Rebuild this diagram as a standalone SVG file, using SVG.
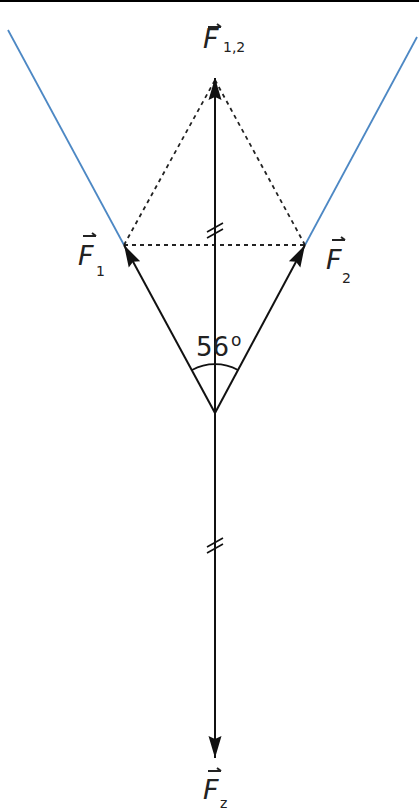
<svg xmlns="http://www.w3.org/2000/svg" width="419" height="810" viewBox="0 0 419 810">
<style>
.vec{stroke:#111;stroke-width:2;fill:none}
.dot{stroke:#222;stroke-width:1.8;stroke-dasharray:4 4;fill:none}
.blue{stroke:#4d88c4;stroke-width:1.8;fill:none}
.tick{stroke:#111;stroke-width:1.6;fill:none}
.F{font-family:"DejaVu Sans",sans-serif;font-style:italic;font-size:27px;fill:#222}
.sub{font-family:"DejaVu Sans",sans-serif;font-size:14px;fill:#222}
.lbl{font-family:"DejaVu Sans",sans-serif;font-size:26px;fill:#222}
</style>
<defs>
<marker id="ah" markerUnits="userSpaceOnUse" markerWidth="24" markerHeight="16" refX="22" refY="8" orient="auto">
<path d="M0,1.5 L22,8 L0,14.5 L3,8 Z" fill="#111"/>
</marker>
<g id="vecarrow"><path d="M0,0 H13 M9,-3 L13,0" stroke="#222" stroke-width="2" fill="none"/></g>
</defs>
<rect x="0" y="0" width="419" height="2" fill="#000"/>
<g id="connectors">
<line class="blue" x1="8" y1="30" x2="124" y2="245"/>
<line class="blue" x1="305" y1="245" x2="417" y2="37"/>
<line class="dot" x1="124" y1="245" x2="215" y2="80"/>
<line class="dot" x1="305" y1="245" x2="215" y2="80"/>
<line class="dot" x1="124" y1="245" x2="305" y2="245"/>
<line class="vec" x1="215" y1="413" x2="215" y2="78" marker-end="url(#ah)"/>
<line class="vec" x1="215" y1="413" x2="124" y2="245" marker-end="url(#ah)"/>
<line class="vec" x1="215" y1="413" x2="305" y2="245" marker-end="url(#ah)"/>
<line class="vec" x1="215" y1="413" x2="215" y2="758" marker-end="url(#ah)"/>
<path class="tick" d="M207,232 L223,223 M207,238 L223,229"/>
<path class="tick" d="M207,547 L223,538 M207,553 L223,544"/>
<path class="tick" d="M192,370 A48,48 0 0 1 238,370"/>
</g>
<g id="angle"><text class="lbl" x="196" y="356">56<tspan font-size="17" dx="2" dy="-10">o</tspan></text></g>
<g id="F12"><use href="#vecarrow" x="208" y="27"/><text class="F" x="203" y="48">F</text><text class="sub" x="223" y="52">1,2</text></g>
<g id="F1"><use href="#vecarrow" x="83" y="236"/><text class="F" x="78" y="265">F</text><text class="sub" x="96" y="276">1</text></g>
<g id="F2"><use href="#vecarrow" x="332" y="240"/><text class="F" x="326" y="269">F</text><text class="sub" x="342" y="283">2</text></g>
<g id="Fz"><use href="#vecarrow" x="208" y="771"/><text class="F" x="203" y="799">F</text><text class="sub" x="220" y="808">z</text></g>
</svg>
